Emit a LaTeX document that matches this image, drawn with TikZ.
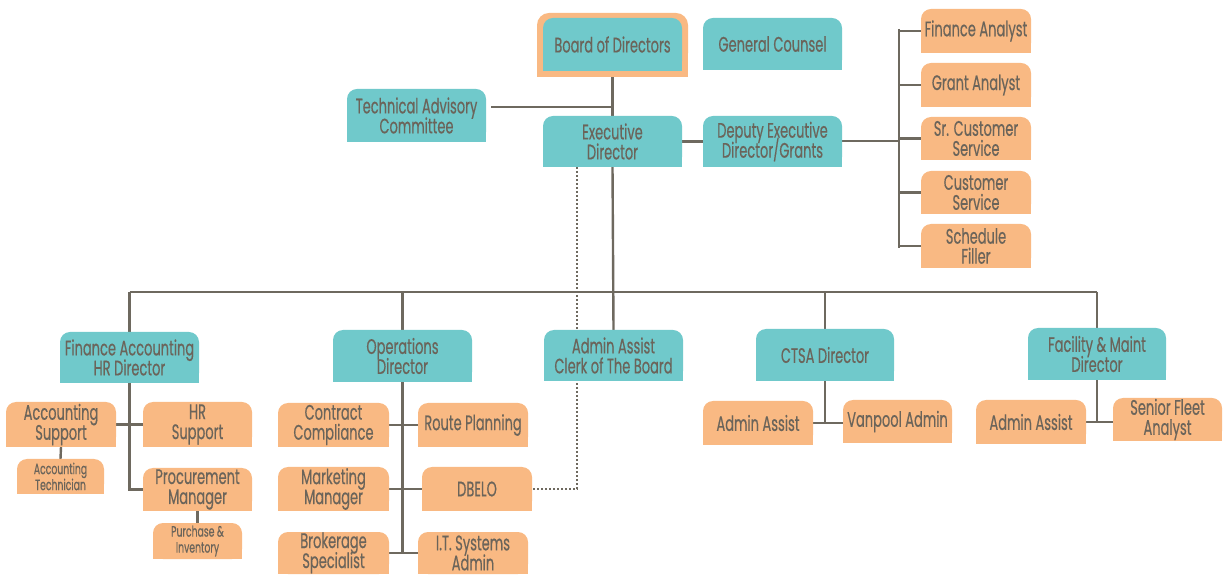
\documentclass[tikz,border=0pt]{standalone}
\usepackage{fontspec}
\setmainfont{Poppins}[FakeStretch=0.62,FakeBold=0.4]
\usetikzlibrary{backgrounds}
\definecolor{tealc}{HTML}{70C9CB}
\definecolor{orangec}{HTML}{F9B983}
\definecolor{txtc}{HTML}{6B645A}
\definecolor{linec}{HTML}{6E695F}
\newcommand\tightlines{\lineskiplimit=-20pt\relax}
\newcommand\mkbox[7]{\node[#1, minimum width={(#5-#3)*0.5pt}, minimum height={(#6-#4)*0.5pt}] (#2) at ({(#3+#5)/2},{(#4+#6)/2}) {#7};}
\tikzset{
  box/.style={inner sep=0pt, outer sep=0pt, align=center, text=txtc, font=\fontsize{10.5}{10}\selectfont\tightlines},
  sbox/.style={box, font=\fontsize{7.5}{8}\selectfont\tightlines},
  conn/.style={draw=linec, line width=1.2pt},
  dots/.style={draw=linec, line width=1pt, dash pattern=on 1pt off 1pt},
}
\begin{document}
\begin{tikzpicture}[x=0.5pt,y=-0.5pt]
\useasboundingbox (0,0) rectangle (1225,576);
% teal boxes
\mkbox{box}{bod}{543}{18}{682}{71}{Board of Directors}
\mkbox{box}{gc}{703}{18}{842}{70}{General Counsel}
\mkbox{box}{tac}{347}{89}{486}{142}{Technical Advisory\\Committee}
\mkbox{box}{ed}{543}{116}{682}{167}{Executive\\Director}
\mkbox{box}{ded}{703}{116}{842}{167}{Deputy Executive\\Director/Grants}
\mkbox{box}{fin}{60}{332}{199}{383}{Finance Accounting\\HR Director}
\mkbox{box}{ops}{333}{330}{472}{382}{Operations\\Director}
\mkbox{box}{aac}{544}{330}{683}{381}{Admin Assist\\Clerk of The Board}
\mkbox{box}{ctsa}{756}{329}{894}{381}{CTSA Director}
\mkbox{box}{fac}{1028}{328}{1166}{380}{Facility \& Maint\\Director}
% orange boxes
\mkbox{box}{fa}{921}{9}{1031}{53}{Finance Analyst}
\mkbox{box}{ga}{921}{63}{1031}{107}{Grant Analyst}
\mkbox{box}{scs}{921}{117}{1031}{160}{Sr. Customer\\Service}
\mkbox{box}{cs}{921}{171}{1031}{214}{Customer\\Service}
\mkbox{box}{sf}{921}{224}{1031}{268}{Schedule\\Filler}
\mkbox{box}{as}{6}{402}{116}{447}{Accounting\\Support}
\mkbox{box}{hrs}{143}{402}{252}{447}{HR\\Support}
\mkbox{sbox}{at}{17}{459}{104}{494}{Accounting\\Technician}
\mkbox{box}{pm}{143}{468}{252}{511}{Procurement\\Manager}
\mkbox{sbox}{pi}{153}{523}{242}{559}{Purchase \&\\Inventory}
\mkbox{box}{cc}{278}{403}{389}{447}{Contract\\Compliance}
\mkbox{box}{rp}{418}{403}{528}{447}{Route Planning}
\mkbox{box}{mm}{278}{467}{389}{511}{Marketing\\Manager}
\mkbox{box}{dbelo}{422}{467}{532}{511}{DBELO}
\mkbox{box}{bs}{278}{532}{389}{574}{Brokerage\\Specialist}
\mkbox{box}{its}{418}{532}{528}{574}{I.T. Systems\\Admin}
\mkbox{box}{caa}{703}{401}{813}{445}{Admin Assist}
\mkbox{box}{va}{843}{400}{952}{443}{Vanpool Admin}
\mkbox{box}{faa}{976}{400}{1086}{444}{Admin Assist}
\mkbox{box}{sfa}{1113}{398}{1222}{441}{Senior Fleet\\Analyst}
\coordinate (j1) at (613,107);
\coordinate (rb) at (899,141);
\coordinate (rtop) at (899,29);
\coordinate (rbot) at (899,248);
\coordinate (bus) at (613,292);
\begin{pgfonlayer}{background}
% connectors
\draw[conn] (bod.south) -- (ed.north);
\draw[conn] ([xshift=2.5pt]tac.east |- j1) -- (j1);
\draw[conn] (ed.east) -- (ded.west);
\draw[conn] (ded.east |- rb) -- (rb);
\draw[conn] (rtop) -- (rbot);
\foreach \n in {fa,ga,scs,cs,sf} {\draw[conn] (rb |- \n.west) -- (\n.west);}
\draw[conn] (ed.south) -- (aac.north);
\draw[conn] (fin.north |- bus) -- (fac.north |- bus);
\foreach \n in {fin,ops,ctsa,fac} {\draw[conn] (\n.north |- bus) -- (\n.north);}
\draw[conn] (fin.south) |- (pm.west);
\draw[conn] (as.east) -- (hrs.west);
\draw[conn] (as.south) -- (at.north);
\draw[conn] (pm.south) -- (pi.north);
\draw[conn] (ops.south) -- (ops.south |- its.west);
\draw[conn] (cc.east) -- (rp.west);
\draw[conn] (mm.east) -- (dbelo.west);
\draw[conn] (bs.east) -- (its.west);
\draw[conn] (ctsa.south) -- (ctsa.south |- caa.east);
\draw[conn] (caa.east) -- (caa.east -| va.west);
\draw[conn] (fac.south) -- (fac.south |- faa.east);
\draw[conn] (faa.east) -- (faa.east -| sfa.west);
\draw[dots] ([xshift=-18pt]ed.south) |- (dbelo.east);
% board border
\fill[orangec, rounded corners=6pt] ([shift={(-3pt,3pt)}]bod.south west) rectangle ([shift={(3pt,2.5pt)}]bod.north east);
\fill[orangec] ([shift={(-3pt,-3pt)}]bod.south west) rectangle ([xshift=3pt]bod.east);
% box fills
\foreach \n in {bod,gc,tac,ed,ded,fin,ops,aac,ctsa,fac} {
  \fill[tealc, rounded corners=5pt] (\n.south west) rectangle (\n.north east);
  \fill[tealc] (\n.south west) rectangle (\n.east);
}
\foreach \n in {fa,ga,scs,cs,sf,as,hrs,at,pm,pi,cc,rp,mm,dbelo,bs,its,caa,va,faa,sfa} {
  \fill[orangec, rounded corners=5pt] (\n.south west) rectangle (\n.north east);
  \fill[orangec] (\n.south west) rectangle (\n.east);
}
\end{pgfonlayer}
\end{tikzpicture}
\end{document}
